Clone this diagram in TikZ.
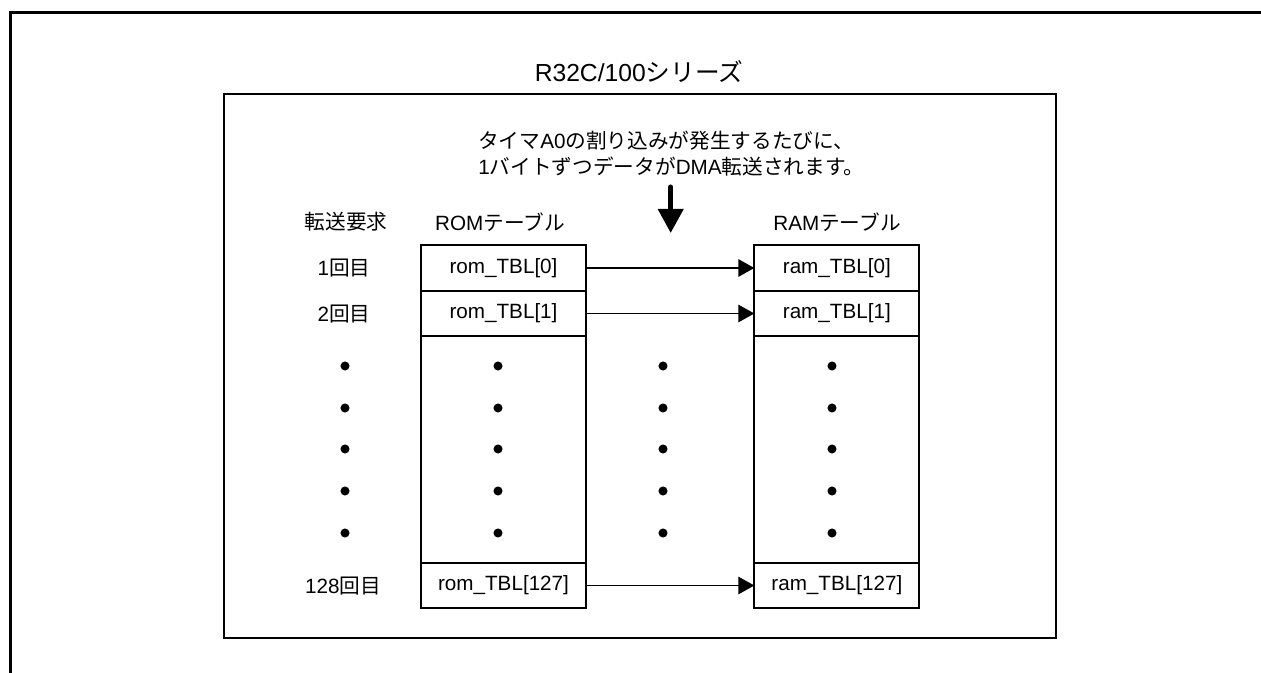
\documentclass[tikz,border=0pt]{standalone}
\usepackage{fontspec}
\setmainfont{Liberation Sans}
\newfontfamily\jpfont{Noto Sans CJK JP}
\usetikzlibrary{arrows.meta}
\newcommand{\J}[1]{{\jpfont #1}}
\begin{document}
\begin{tikzpicture}[x=0.75pt,y=-0.75pt,
  txt/.style={font=\fontsize{15.5}{19.5}\selectfont, inner sep=0pt},
  ttl/.style={font=\fontsize{18.5}{22}\selectfont, inner sep=0pt},
  cell/.style={draw, line width=1.4pt, inner sep=0pt, outer sep=0pt,
    minimum width=123.75pt, font=\fontsize{15.5}{19.5}\selectfont},
  conn/.style={line width=1.4pt, -{Triangle[length=12pt,width=13pt]}},
  bigarrow/.style={line width=3.75pt, line cap=round, -{Triangle[length=18pt,width=18.5pt]}},
  dotc/.style={circle, fill, inner sep=0pt, minimum size=6.8pt}
]
\useasboundingbox (0,0) rectangle (1261,673);
% outer frame
\draw[line width=2.2pt] (10.5,673) -- (10.5,12.3) -- (1261,12.3);
% series box
\draw[line width=1.4pt] (224,94) rectangle (1056,638);
\node[ttl] (title) at (639,72) {R32C/100\J{シリーズ}};
% explanation
\node[txt, anchor=west, align=left] (expl) at (478,154)
  {\J{タイマ}A0\J{の割り込みが発生するたびに、}\\1\J{バイトずつデータが}DMA\J{転送されます。}};
\coordinate (dtop) at (670.7,187);
\coordinate (dtip) at (670.7,233);
\draw[bigarrow] (dtop) -- (dtip);
% headers
\node[txt] (hreq) at (346,222) {\J{転送要求}};
\node[txt] (hrom) at (500,222) {ROM\J{テーブル}};
\node[txt] (hram) at (837,222) {RAM\J{テーブル}};
% request labels
\node[txt] (r1) at (344,268) {1\J{回目}};
\node[txt] (r2) at (344,314) {2\J{回目}};
\node[txt] (r128) at (343,586) {128\J{回目}};
% ROM table
\node[cell, minimum height=34.5pt] (rom0) at (503.5,268) {rom\_TBL[0]};
\node[cell, minimum height=33.75pt] (rom1) at (503.5,313.5) {rom\_TBL[1]};
\node[cell, minimum height=170.25pt] (romd) at (503.5,449.5) {};
\node[cell, minimum height=33.75pt] (rom127) at (503.5,585.5) {rom\_TBL[127]};
% RAM table
\node[cell, minimum height=34.5pt] (ram0) at (836.85,268) {ram\_TBL[0]};
\node[cell, minimum height=33.75pt] (ram1) at (836.85,313.5) {ram\_TBL[1]};
\node[cell, minimum height=170.25pt] (ramd) at (836.85,449.5) {};
\node[cell, minimum height=33.75pt] (ram127) at (836.85,585.5) {ram\_TBL[127]};
% connectors
\draw[conn] (rom0) -- (ram0);
\draw[conn] (rom1) -- (ram1);
\draw[conn] (rom127) -- (ram127);
% dots
\foreach \yy [count=\i] in {366,408,449,491,533}{
  \node[dotc] (da\i) at (345,\yy) {};
  \node[dotc] (db\i) at (498,\yy) {};
  \node[dotc] (dc\i) at (663,\yy) {};
  \node[dotc] (dd\i) at (832,\yy) {};
}
\end{tikzpicture}
\end{document}
